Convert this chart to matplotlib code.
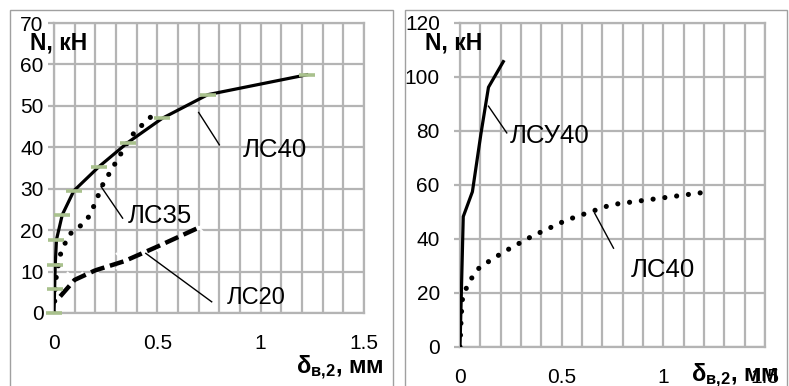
import numpy as np
import matplotlib.pyplot as plt
from matplotlib.patches import Rectangle

# ЛС40 (same series on both panels)
ls40_x = [0, 0.003, 0.006, 0.012, 0.04, 0.096, 0.217, 0.356, 0.524, 0.744, 1.223]
ls40_y = [0, 5.8, 11.7, 17.7, 23.7, 29.5, 35.3, 41.1, 47.0, 52.7, 57.5]

# ЛС35
ls35_x = [0, 0.01, 0.03, 0.07, 0.125, 0.164, 0.19, 0.235, 0.29, 0.375, 0.455, 0.5]
ls35_y = [0, 8.4, 14.0, 18.8, 20.9, 22.9, 25.5, 30.9, 35.6, 42.8, 46.8, 48.5]

# ЛС20
ls20_x = [0.03, 0.1, 0.2, 0.34, 0.49, 0.7]
ls20_y = [4.0, 8.0, 10.3, 12.5, 15.8, 20.6]

# ЛСУ40
lsu40_x = [0, 0.016, 0.061, 0.103, 0.14, 0.213]
lsu40_y = [0, 48.3, 57.5, 79.0, 96.2, 105.7]

left_yticks = [0, 10, 20, 30, 40, 50, 60, 70]
right_yticks = [0, 20, 40, 60, 80, 100, 120]
xticks = [0, 0.5, 1, 1.5]
xtick_labels = ['0', '0.5', '1', '1.5']

plt.rcParams['font.family'] = ['Liberation Sans', 'DejaVu Sans']
plt.rcParams['mathtext.fontset'] = 'custom'
plt.rcParams['mathtext.bf'] = 'Liberation Sans:bold'
plt.rcParams['mathtext.rm'] = 'Liberation Sans'

GRID = '#b4b4b4'
GREEN = '#a9c18d'
W, H = 789, 386

fig = plt.figure(figsize=(W / 100, H / 100), dpi=100)
ax1 = fig.add_axes([54 / W, 1 - 313 / H, (364 - 54) / W, (313 - 23) / H])
ax2 = fig.add_axes([460 / W, 1 - 347 / H, (765 - 460) / W, (347 - 23) / H])

# panel frames
for x0, x1 in [(10, 393), (405, 787)]:
    fig.patches.append(Rectangle((x0 / W, -0.05), (x1 - x0) / W, 1.05 - 10 / H,
                                 transform=fig.transFigure, fill=False,
                                 ec='#a0a0a0', lw=1.0))


def setup(ax, yticks, ypad):
    ax.set_xlim(0, 1.5)
    ax.set_ylim(yticks[0], yticks[-1])
    ax.set_xticks(xticks)
    ax.set_xticklabels(xtick_labels)
    ax.set_xticks(np.arange(0.1, 1.5, 0.1), minor=True)
    ax.set_yticks(yticks)
    ax.grid(True, which='both', color=GRID, lw=1.6)
    ax.set_axisbelow(True)
    for s in ax.spines.values():
        s.set_color(GRID)
        s.set_linewidth(1.6)
    ax.tick_params(axis='x', which='both', length=0, pad=15, labelsize=15,
                   colors='black')
    ax.tick_params(axis='y', length=4.5, width=1.6, color=GRID, pad=ypad,
                   labelsize=15)


setup(ax1, left_yticks, 3)
setup(ax2, right_yticks, 10)

# left panel
ax1.plot(ls40_x, ls40_y, color='black', lw=2.3, zorder=3)
ax1.plot(ls40_x, ls40_y, ls='none', marker='_', ms=11, mew=2.6, color=GREEN,
         zorder=4, clip_on=False)
ax1.plot(ls35_x, ls35_y, color='black', lw=3.7, ls=(0, (0.01, 2.3)),
         dash_capstyle='round', zorder=3)
ax1.plot(ls20_x, ls20_y, ls='none', marker='x', ms=12, mew=1.5, color='white',
         zorder=2.5)
ax1.plot(ls20_x, ls20_y, color='black', lw=3.2, ls=(0, (3.2, 1.3)), zorder=3)

ax1.plot([0.70, 0.80], [48.4, 40.6], color='black', lw=1, zorder=3)
ax1.text(0.915, 39.4, 'ЛС40', fontsize=18.5, va='center', ha='left')
ax1.plot([0.228, 0.332], [30.5, 22.9], color='black', lw=1, zorder=3)
ax1.text(0.356, 23.3, 'ЛС35', fontsize=18.5, va='center', ha='left')
ax1.plot([0.444, 0.763], [14.4, 2.7], color='black', lw=1, zorder=3)
ax1.text(0.835, 3.5, 'ЛС20', fontsize=17, va='center', ha='left')

# right panel
ax2.plot(lsu40_x, lsu40_y, color='black', lw=2.3, zorder=3)
ax2.plot(ls40_x, ls40_y, color='black', lw=3.7, ls=(0, (0.01, 2.3)),
         dash_capstyle='round', zorder=3)

ax2.plot([0.14, 0.23], [89.2, 79.3], color='black', lw=1, zorder=3)
ax2.text(0.246, 78, 'ЛСУ40', fontsize=18.5, va='center', ha='left')
ax2.plot([0.662, 0.755], [49.6, 36.6], color='black', lw=1, zorder=3)
ax2.text(0.842, 28.6, 'ЛС40', fontsize=18.5, va='center', ha='left')

# axis titles
for xpx in [30, 425]:
    fig.text(xpx / W, 1 - 43 / H, 'N, кН', fontsize=16.5, fontweight='bold',
             ha='left', va='center')
xlab = r'$\mathbf{δ_{в{,}2}}$' + ', мм'
fig.text(384 / W, 1 - 368 / H, xlab, fontsize=17, fontweight='bold',
         ha='right', va='center')
fig.text(779 / W, 1 - 376 / H, xlab, fontsize=17, fontweight='bold',
         ha='right', va='center')

fig.savefig('out.png', dpi=100)
